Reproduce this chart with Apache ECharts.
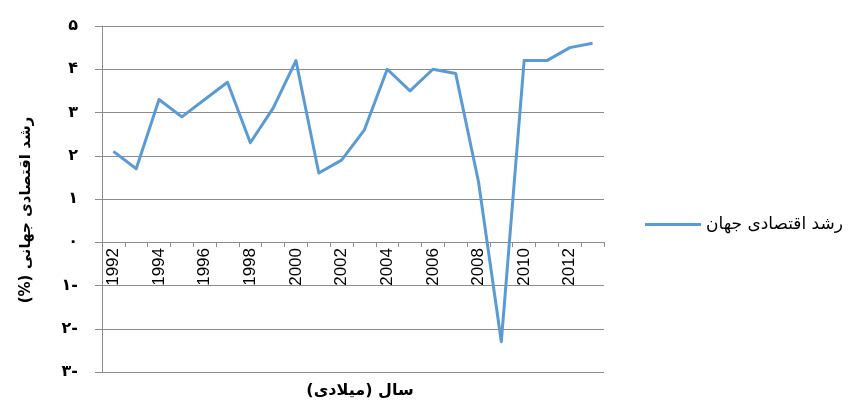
<!DOCTYPE html>
<html>
<head>
<meta charset="utf-8">
<script src="https://cdn.jsdelivr.net/npm/echarts@6/dist/echarts.min.js"></script>
<style>
  html, body { margin: 0; padding: 0; background: #fff; }
  #chart { width: 849px; height: 409px; }
</style>
</head>
<body>
<div id="chart"></div>
<script>
// سال‌ها و نرخ رشد اقتصادی جهان (%)
const years = ['1992', '1993', '1994', '1995', '1996', '1997', '1998', '1999', '2000', '2001', '2002',
  '2003', '2004', '2005', '2006', '2007', '2008', '2009', '2010', '2011', '2012', '2013']
const growth = [2.1, 1.7, 3.3, 2.9, 3.3, 3.7, 2.3, 3.1, 4.2, 1.6, 1.9,
  2.6, 4.0, 3.5, 4.0, 3.9, 1.4, -2.3, 4.2, 4.2, 4.5, 4.6]
const seriesName = 'رشد اقتصادی جهان'
const yTitle = 'رشد اقتصادی جهانی (%)\u200F'
const xTitle = '\u200Fسال (میلادی)\u200F'
const faDigits = ['۰', '۱', '۲', '۳', '۴', '۵', '۶', '۷', '۸', '۹']

const toFa = v => {
  const s = String(Math.abs(v)).replace(/\d/g, d => faDigits[+d])
  return v < 0 ? s + '-' : s
}

const gridColor = '#8c8c8c'
const font = "'DejaVu Sans', 'Liberation Sans', sans-serif"

var myChart = echarts.init(document.getElementById('chart'), null, { renderer: 'canvas' })

// محور افقی روی خط صفر: فاصلهٔ صفر تا پایین نمودار = ۳ واحد
const plotTop = 26
const plotBottom = 37
const plotH = 409 - plotTop - plotBottom
const zeroOffset = -Math.round(plotH * 3 / 8)

var option = {
  animation: false,
  textStyle: { fontFamily: font },
  grid: { left: 102, right: 245, top: plotTop, bottom: plotBottom, containLabel: false, outerBoundsMode: 'none' },
  legend: {
    data: [seriesName],
    left: 645,
    top: 216,
    padding: 0,
    icon: 'rect',
    itemWidth: 56,
    itemHeight: 3,
    itemGap: 4,
    textStyle: { fontSize: 17, color: '#000', fontFamily: font }
  },
  xAxis: {
    type: 'category',
    data: years,
    boundaryGap: true,
    position: 'bottom',
    offset: zeroOffset,
    name: xTitle,
    nameLocation: 'middle',
    nameGap: 141,
    nameTextStyle: { fontSize: 16, fontWeight: 'bold', color: '#000', fontFamily: font, padding: [0, 0, 0, 14] },
    axisLine: { onZero: false, lineStyle: { color: gridColor, width: 1 } },
    axisTick: { show: true, interval: 0, length: 5, lineStyle: { color: gridColor } },
    axisLabel: {
      interval: 1,
      rotate: 90,
      margin: 6,
      fontSize: 17,
      color: '#000',
      fontFamily: "'Liberation Sans', Arial, sans-serif"
    },
    splitLine: { show: false }
  },
  yAxis: {
    type: 'value',
    min: -3,
    max: 5,
    interval: 1,
    name: yTitle,
    nameLocation: 'middle',
    nameGap: 68,
    nameRotate: 90,
    nameTextStyle: { fontSize: 15, fontWeight: 'bold', color: '#000', fontFamily: font, padding: [0, 22, 0, 0] },
    axisLine: { show: true, lineStyle: { color: gridColor, width: 1 } },
    axisTick: { show: true, length: 7, lineStyle: { color: gridColor } },
    axisLabel: {
      margin: 24,
      fontSize: 16,
      fontWeight: 'bold',
      color: '#000',
      formatter: v => toFa(v)
    },
    splitLine: { show: true, lineStyle: { color: gridColor, width: 1 } }
  },
  series: [{
    name: seriesName,
    type: 'line',
    data: growth,
    symbol: 'none',
    lineStyle: { color: '#5b9bd5', width: 3, join: 'round' },
    itemStyle: { color: '#5b9bd5' }
  }]
}

myChart.setOption(option)
</script>
</body>
</html>
